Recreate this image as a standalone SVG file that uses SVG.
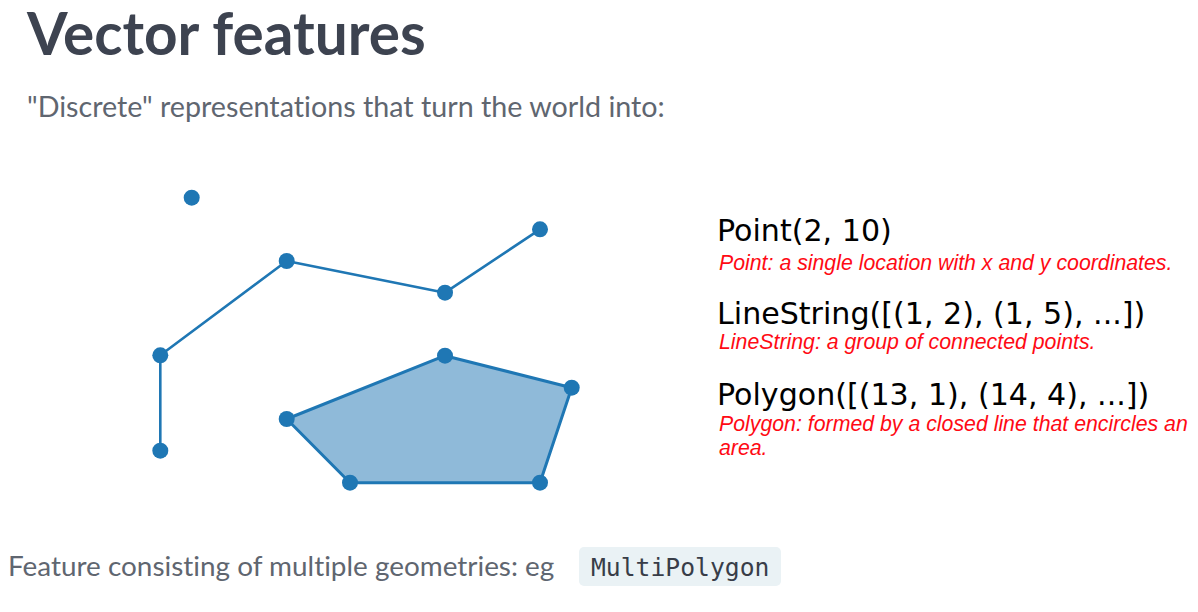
<svg xmlns="http://www.w3.org/2000/svg" width="1198" height="612" viewBox="0 0 1198 612">
  <style>
    .title { font-family: Lato, "Noto Sans", sans-serif; font-weight: 700; font-size: 58.5px; fill: #3d4350; }
    .body { font-family: Lato, "Noto Sans", sans-serif; fill: #5f6670; font-variant-ligatures: none; }
    .geom { font-family: "DejaVu Sans", sans-serif; font-size: 30.1px; fill: #000000; }
    .desc { font-family: "Liberation Sans", Arial, sans-serif; font-style: italic; font-size: 21.3px; fill: #ff0a14; }
    .code { font-family: "DejaVu Sans Mono", "Liberation Mono", monospace; font-size: 24.7px; fill: #383d48; }
    .edge { fill: none; stroke: #1f77b4; stroke-width: 2.6; stroke-linejoin: round; }
    .area { fill: #8fbad9; stroke: #1f77b4; stroke-width: 3; stroke-linejoin: round; }
    .vtx { fill: #1f77b4; }
  </style>

  <rect width="1198" height="612" fill="#ffffff"/>

  <text class="title" x="27" y="55">Vector features</text>
  <text class="body" x="27" y="117" font-size="28.7">"Discrete" representations that turn the world into:</text>

  <!-- Point geometry -->
  <g id="point">
    <circle class="vtx" cx="191.7" cy="197.7" r="8"/>
  </g>

  <!-- LineString geometry -->
  <g id="linestring">
    <polyline class="edge" points="160.3,450.7 160.3,355.3 286.7,261 445,292.7 540,229.3"/>
    <circle class="vtx" cx="160.3" cy="450.7" r="8"/>
    <circle class="vtx" cx="160.3" cy="355.3" r="8"/>
    <circle class="vtx" cx="286.7" cy="261" r="8"/>
    <circle class="vtx" cx="445" cy="292.7" r="8"/>
    <circle class="vtx" cx="540" cy="229.3" r="8"/>
  </g>

  <!-- Polygon geometry -->
  <g id="polygon">
    <polygon class="area" points="286.7,419 445,355.7 571.7,387.7 540,482.7 350,482.7"/>
    <circle class="vtx" cx="286.7" cy="419" r="8"/>
    <circle class="vtx" cx="445" cy="355.7" r="8"/>
    <circle class="vtx" cx="571.7" cy="387.7" r="8"/>
    <circle class="vtx" cx="540" cy="482.7" r="8"/>
    <circle class="vtx" cx="350" cy="482.7" r="8"/>
  </g>

  <!-- Geometry legend -->
  <g id="legend-point">
    <text class="geom" x="717" y="241">Point(2, 10)</text>
    <text class="desc" x="719" y="270">Point: a single location with x and y coordinates.</text>
  </g>
  <g id="legend-linestring">
    <text class="geom" x="717" y="324">LineString([(1, 2), (1, 5), ...])</text>
    <text class="desc" x="719" y="349">LineString: a group of connected points.</text>
  </g>
  <g id="legend-polygon">
    <text class="geom" x="717" y="405">Polygon([(13, 1), (14, 4), ...])</text>
    <text class="desc" x="719" y="431">Polygon: formed by a closed line that encircles an</text>
    <text class="desc" x="719" y="455">area.</text>
  </g>

  <!-- Footer -->
  <text class="body" x="8" y="576" font-size="27.9">Feature consisting of multiple geometries: eg</text>
  <rect x="579" y="547" width="202" height="39" rx="5" fill="#eaf2f5"/>
  <text class="code" x="591" y="576">MultiPolygon</text>
</svg>
